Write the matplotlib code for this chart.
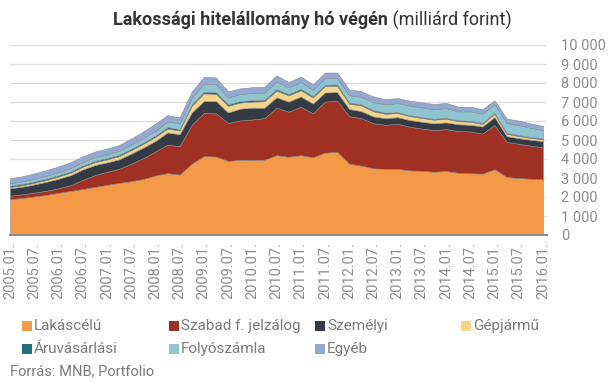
import matplotlib.pyplot as plt
from matplotlib.patches import Rectangle

# ------------------------------
# Adatok (milliárd forint, negyedéves leolvasás)
# ------------------------------
honap = list(range(0, 133, 3))  # hónapok 2005.01 óta

lakascelu = [1880, 1950, 2030, 2110, 2220, 2320, 2420, 2530, 2640, 2740,
             2830, 2950, 3130, 3260, 3180, 3750, 4150, 4130, 3900, 3950,
             3950, 3960, 4200, 4120, 4200, 4090, 4330, 4380, 3760, 3650,
             3510, 3480, 3480, 3400, 3380, 3330, 3370, 3270, 3250, 3230,
             3460, 3050, 3000, 2960, 2930]
szabad = [190, 190, 200, 220, 240, 300, 480, 620, 690, 740,
          920, 1100, 1270, 1490, 1500, 2050, 2270, 2270, 2000, 2080,
          2130, 2190, 2500, 2370, 2550, 2310, 2690, 2690, 2490, 2500,
          2370, 2320, 2370, 2300, 2220, 2190, 2200, 2200, 2200, 2110,
          2330, 1850, 1800, 1740, 1690]
szemelyi = [390, 400, 430, 470, 500, 530, 550, 530, 490, 500,
            530, 550, 550, 650, 620, 650, 630, 650, 550, 620,
            620, 550, 550, 530, 540, 520, 480, 450, 380, 370,
            360, 350, 350, 350, 360, 360, 360, 360, 350, 370,
            420, 300, 300, 310, 320]
gepjarmu = [70, 80, 90, 100, 120, 130, 140, 150, 160, 170,
            190, 200, 210, 200, 200, 350, 400, 380, 350, 320,
            320, 340, 350, 330, 330, 320, 340, 330, 280, 300,
            270, 230, 220, 210, 200, 190, 190, 160, 160, 140,
            180, 120, 110, 100, 100]
aruvasarlasi = [70, 70, 70, 70, 70, 70, 70, 70, 70, 70,
                70, 70, 70, 80, 70, 80, 90, 90, 80, 80,
                80, 80, 80, 70, 80, 70, 70, 70, 60, 60,
                60, 60, 50, 50, 50, 50, 50, 50, 50, 50,
                50, 50, 50, 50, 50]
folyoszamla = [120, 130, 140, 150, 160, 170, 180, 190, 200, 210,
               220, 230, 250, 300, 300, 330, 420, 420, 350, 380,
               380, 380, 400, 350, 350, 330, 350, 350, 390, 390,
               420, 440, 480, 500, 510, 500, 510, 470, 500, 490,
               450, 530, 520, 480, 430]
egyeb = [260, 270, 280, 290, 300, 310, 300, 300, 300, 300,
         320, 350, 380, 330, 320, 340, 360, 350, 330, 290,
         300, 300, 320, 280, 290, 290, 290, 280, 300, 300,
         300, 270, 260, 260, 260, 270, 270, 240, 240, 230,
         200, 230, 240, 230, 220]

nevek = ['Lakáscélú', 'Szabad f. jelzálog', 'Személyi', 'Gépjármű',
         'Áruvásárlási', 'Folyószámla', 'Egyéb']
szinek = ['#F49A46', '#A03021', '#353B45', '#F5D48B',
          '#1F6F7C', '#8FC5D0', '#93A8D3']

tick_honap = list(range(0, 133, 6))
tick_cimkek = ['2005.01.', '2005.07.', '2006.01.', '2006.07.', '2007.01.',
               '2007.07.', '2008.01.', '2008.07.', '2009.01.', '2009.07.',
               '2010.01.', '2010.07.', '2011.01.', '2011.07.', '2012.01.',
               '2012.07.', '2013.01.', '2013.07.', '2014.01.', '2014.07.',
               '2015.01.', '2015.07.', '2016.01.']
y_ticks = list(range(0, 10001, 1000))
y_cimkek = ['0', '1 000', '2 000', '3 000', '4 000', '5 000', '6 000',
            '7 000', '8 000', '9 000', '10 000']

# ------------------------------
# Ábra
# ------------------------------
plt.rcParams['font.family'] = ['Roboto', 'DejaVu Sans']
W, H = 608, 382
fig = plt.figure(figsize=(W / 100, H / 100), dpi=100)
ax = fig.add_axes([10 / W, (H - 235) / H, 537 / W, 190 / H])

ax.stackplot(honap, lakascelu, szabad, szemelyi, gepjarmu, aruvasarlasi,
             folyoszamla, egyeb, colors=szinek, linewidth=0.4,
             edgecolor='#8a8a8a', zorder=2)

ax.set_xlim(0, 133)
ax.set_ylim(0, 10000)
ax.set_yticks(y_ticks)
ax.set_yticklabels(y_cimkek)
ax.yaxis.tick_right()
ax.set_xticks(tick_honap)
ax.set_xticklabels(tick_cimkek, rotation=90)
ax.tick_params(axis='y', length=0, pad=10, labelsize=10.5, labelcolor='#8c8c8c')
ax.tick_params(axis='x', length=0, pad=5, labelsize=10.5, labelcolor='#8c8c8c')
ax.grid(axis='y', color='#dcdcdc', linewidth=1, zorder=0)
ax.set_axisbelow(True)
for s in ['top', 'left', 'right']:
    ax.spines[s].set_visible(False)
ax.spines['bottom'].set_color('#8c8c8c')
ax.spines['bottom'].set_linewidth(1.5)
ax.spines['bottom'].set_zorder(3)

# Cím: félkövér + normál rész
t1 = fig.text(0, 1 - 20 / H, 'Lakossági hitelállomány hó végén', fontsize=13,
              fontweight='bold', color='#333333', va='center')
t2 = fig.text(0, 1 - 20 / H, ' (milliárd forint)', fontsize=13,
              color='#333333', va='center')
fig.canvas.draw()
r = fig.canvas.get_renderer()
w1 = t1.get_window_extent(r).width
w2 = t2.get_window_extent(r).width
x0 = 312 - (w1 + w2) / 2
t1.set_x(x0 / W)
t2.set_x((x0 + w1) / W)

# Jelmagyarázat
leg_x = [22, 169, 315, 461]
leg_y = [326, 349]
for i, (nev, szin) in enumerate(zip(nevek, szinek)):
    px = leg_x[i % 4]
    py = leg_y[i // 4]
    fig.add_artist(Rectangle((px / W, 1 - (py + 5) / H), 10 / W, 10 / H,
                             transform=fig.transFigure, facecolor=szin,
                             edgecolor='none'))
    fig.text((px + 12) / W, 1 - py / H, nev, fontsize=11, color='#7a7a7a',
             va='center')

fig.text(10 / W, 1 - 371 / H, 'Forrás: MNB, Portfolio', fontsize=10.5,
         color='#7a7a7a', va='center')

fig.savefig('out.png', dpi=100)
